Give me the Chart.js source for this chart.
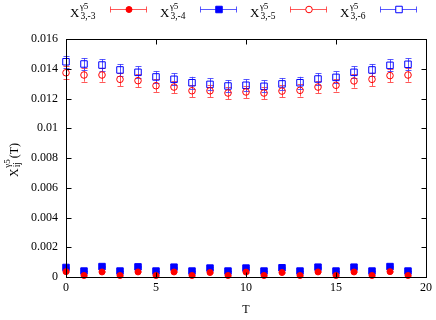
<!DOCTYPE html>
<html><head><meta charset="utf-8">
<script src="https://cdn.jsdelivr.net/npm/chart.js@4.4.0/dist/chart.umd.min.js"></script>
<style>html,body{margin:0;padding:0;background:#fff}canvas{display:block}</style>
</head><body><canvas id="c" width="436" height="320"></canvas>
<script>
const T = [0,1,2,3,4,5,6,7,8,9,10,11,12,13,14,15,16,17,18,19];
// X^{g5}_{3,-3}
const v33 = [0.00036,0.0001,0.00034,0.0001,0.00034,0.0001,0.00034,0.0001,0.0003,0.0001,0.00033,0.0001,0.0003,0.0001,0.00034,0.0001,0.00034,0.0001,0.00036,0.0001];
const e33 = [0.00003,0.00002,0.00003,0.00002,0.00003,0.00002,0.00003,0.00002,0.00003,0.00002,0.00003,0.00002,0.00003,0.00002,0.00003,0.00002,0.00003,0.00002,0.00003,0.00002];
// X^{g5}_{3,-4}
const v34 = [0.00064,0.0004,0.0007,0.0004,0.00068,0.0004,0.00066,0.0004,0.0006,0.0004,0.0006,0.0004,0.00062,0.0004,0.00066,0.0004,0.00066,0.0004,0.0007,0.0004];
const e34 = [0.00004,0.00003,0.00004,0.00003,0.00004,0.00003,0.00004,0.00003,0.00004,0.00003,0.00004,0.00003,0.00004,0.00003,0.00004,0.00003,0.00004,0.00003,0.00004,0.00003];
// X^{g5}_{3,-5}
const v35 = [0.01373,0.01358,0.01358,0.01329,0.0132,0.01286,0.01277,0.01252,0.01252,0.01237,0.01244,0.01237,0.0125,0.01255,0.01277,0.01289,0.01318,0.01329,0.01354,0.01358];
const e35 = [0.00045,0.00045,0.00045,0.00045,0.00045,0.00042,0.00042,0.00042,0.00042,0.00042,0.00042,0.00042,0.00042,0.00042,0.00042,0.00042,0.00045,0.00045,0.00045,0.00045];
// X^{g5}_{3,-6}
const v36 = [0.01447,0.01432,0.01425,0.01392,0.01376,0.01345,0.01329,0.01306,0.01295,0.01284,0.01289,0.01282,0.01298,0.01306,0.01331,0.01342,0.01376,0.01392,0.01423,0.0143];
const e36 = [0.0004,0.0004,0.0004,0.0004,0.0004,0.0004,0.0004,0.0004,0.0004,0.0004,0.0004,0.0004,0.0004,0.0004,0.0004,0.0004,0.0004,0.0004,0.0004,0.0004];
const seriesSubs = ['3,-3','3,-4','3,-5','3,-6'];
const xTicks = [0,5,10,15,20];
const yTickLabels = ['0','0.002','0.004','0.006','0.008','0.01','0.012','0.014','0.016'];

const SERIF = '"Liberation Serif","DejaVu Serif",serif';
const RED = '#ff0000', BLUE = '#0000ff';
const styles = [
  {pointStyle:'circle', radius:3, bg:RED, border:RED, bar:'rgba(255,60,60,0.85)'},
  {pointStyle:'rect', radius:4.6, bg:BLUE, border:BLUE, bar:'rgba(60,60,255,0.85)'},
  {pointStyle:'circle', radius:3.3, bg:'rgba(0,0,0,0)', border:RED, bar:'rgba(255,60,60,0.85)'},
  {pointStyle:'rect', radius:4.6, bg:'rgba(0,0,0,0)', border:BLUE, bar:'rgba(60,60,255,0.85)'}
];
const vals = [v33, v34, v35, v36];
const errs = [e33, e34, e35, e36];

const datasets = vals.map((v, k) => ({
  label: 'X' + seriesSubs[k],
  data: T.map((t, i) => ({x: t, y: v[i]})),
  errors: errs[k],
  pointStyle: styles[k].pointStyle,
  pointRadius: styles[k].radius,
  pointBackgroundColor: styles[k].bg,
  pointBorderColor: styles[k].border,
  pointBorderWidth: 1,
  showLine: false,
  clip: false,
  barColor: styles[k].bar
}));

function drawX(ctx, x, y, sup, sub, big) {
  ctx.fillStyle = '#000';
  ctx.textAlign = 'left';
  ctx.textBaseline = 'alphabetic';
  ctx.font = big + 'px ' + SERIF;
  ctx.fillText('X', x, y);
  const w = ctx.measureText('X').width;
  ctx.font = '9px ' + SERIF;
  ctx.fillText(sup, x + w + 0.5, y - 8);
  const ws = ctx.measureText(sup).width;
  ctx.font = '9.5px ' + SERIF;
  ctx.fillText(sub, x + w + 1, y + 2);
  const wb = ctx.measureText(sub).width;
  return x + w + 1 + Math.max(ws, wb);
}

const customPlugin = {
  id: 'custom',
  beforeDatasetsDraw(chart) {
    const ctx = chart.ctx;
    const xs = chart.scales.x, ys = chart.scales.y;
    ctx.save();
    ctx.lineWidth = 1;
    chart.data.datasets.forEach(ds => {
      ctx.strokeStyle = ds.barColor;
      ds.data.forEach((p, i) => {
        const e = ds.errors[i];
        const px = xs.getPixelForValue(p.x);
        const y1 = ys.getPixelForValue(p.y - e), y2 = ys.getPixelForValue(p.y + e);
        ctx.beginPath();
        ctx.moveTo(px + 0.5, y1); ctx.lineTo(px + 0.5, y2);
        ctx.moveTo(px - 2.5, Math.round(y1) + 0.5); ctx.lineTo(px + 3.5, Math.round(y1) + 0.5);
        ctx.moveTo(px - 2.5, Math.round(y2) + 0.5); ctx.lineTo(px + 3.5, Math.round(y2) + 0.5);
        ctx.stroke();
      });
    });
    ctx.restore();
  },
  afterDraw(chart) {
    const ctx = chart.ctx;
    const a = chart.chartArea;
    const xs = chart.scales.x, ys = chart.scales.y;
    ctx.save();
    ctx.strokeStyle = '#000';
    ctx.lineWidth = 1;
    const L = Math.round(a.left) + 0.5, R = Math.round(a.right) + 0.5;
    const Tp = Math.round(a.top) + 0.5, B = Math.round(a.bottom) + 0.5;
    ctx.strokeRect(L, Tp, R - L, B - Tp);
    ctx.beginPath();
    xTicks.forEach(t => {
      const px = Math.round(xs.getPixelForValue(t)) + 0.5;
      ctx.moveTo(px, B); ctx.lineTo(px, B - 5);
      ctx.moveTo(px, Tp); ctx.lineTo(px, Tp + 5);
    });
    ys.ticks.forEach(t => {
      const py = Math.round(ys.getPixelForValue(t.value)) + 0.5;
      ctx.moveTo(L, py); ctx.lineTo(L + 5, py);
      ctx.moveTo(R, py); ctx.lineTo(R - 5, py);
    });
    ctx.stroke();

    // axis titles
    ctx.fillStyle = '#000';
    ctx.font = '12px ' + SERIF;
    ctx.textAlign = 'center';
    ctx.textBaseline = 'alphabetic';
    ctx.fillText('T', (a.left + a.right) / 2, 313);
    ctx.save();
    ctx.translate(17.5, 177);
    ctx.rotate(-Math.PI / 2);
    const end = drawX(ctx, 0, 0, 'γ5', 'ij', 12);
    ctx.font = '12px ' + SERIF;
    ctx.textAlign = 'left';
    ctx.fillText('(T)', end + 0.5, 0);
    ctx.restore();

    // legend
    chart.data.datasets.forEach((ds, k) => {
      const bx = 70 + 90 * k;
      drawX(ctx, bx, 16.5, 'γ5', seriesSubs[k], 13);
      const ly = 9.5;
      ctx.strokeStyle = ds.barColor;
      ctx.lineWidth = 1;
      ctx.beginPath();
      ctx.moveTo(110 + 90 * k, ly); ctx.lineTo(147 + 90 * k, ly);
      ctx.moveTo(110.5 + 90 * k, ly - 3); ctx.lineTo(110.5 + 90 * k, ly + 3);
      ctx.moveTo(146.5 + 90 * k, ly - 3); ctx.lineTo(146.5 + 90 * k, ly + 3);
      ctx.stroke();
      const st = styles[k];
      ctx.fillStyle = st.bg === 'rgba(0,0,0,0)' ? '#ffffff' : st.bg;
      ctx.strokeStyle = st.border;
      ctx.beginPath();
      if (st.pointStyle === 'circle') {
        ctx.arc(129 + 90 * k, ly, st.radius, 0, Math.PI * 2);
      } else {
        const s = st.radius * Math.SQRT1_2;
        ctx.rect(129 + 90 * k - s, ly - s, 2 * s, 2 * s);
      }
      ctx.fill(); ctx.stroke();
    });
    ctx.restore();
  }
};

new Chart(document.getElementById('c'), {
  type: 'scatter',
  data: { datasets },
  options: {
    responsive: false,
    animation: false,
    layout: { padding: { top: 39, right: 10, left: 0, bottom: 0 } },
    plugins: { legend: { display: false }, tooltip: { enabled: false } },
    scales: {
      x: {
        type: 'linear', min: 0, max: 20,
        ticks: { stepSize: 5, color: '#000', font: { family: SERIF, size: 12 }, padding: 4, maxRotation: 0,
                 callback: (v) => xTicks.includes(v) ? String(v) : '' },
        grid: { display: false, drawTicks: false },
        border: { display: false },
        afterFit: (s) => { s.height = 43; }
      },
      y: {
        min: 0, max: 0.016,
        ticks: { stepSize: 0.002, color: '#000', font: { family: SERIF, size: 12 }, padding: 8,
                 callback: (v, i) => yTickLabels[i] },
        grid: { display: false, drawTicks: false },
        border: { display: false },
        afterFit: (s) => { s.width = 66; }
      }
    }
  },
  plugins: [customPlugin]
});
</script>
</body></html>
